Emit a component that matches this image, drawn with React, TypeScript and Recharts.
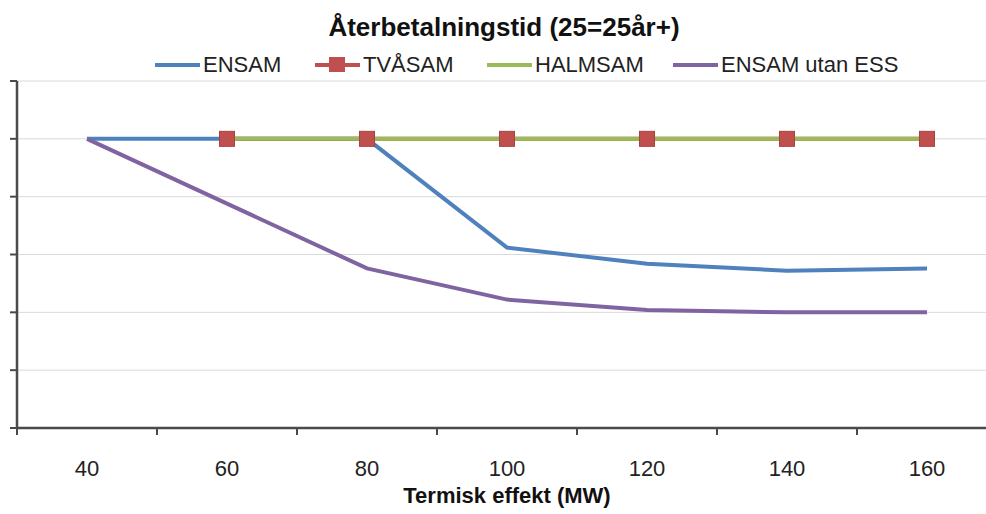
import { CartesianGrid, Legend, Line, LineChart, XAxis, YAxis } from "recharts";

const effekt = [40, 60, 80, 100, 120, 140, 160];
const ensam = [25, 25, 25, 15.6, 14.2, 13.6, 13.8];
const tvasam = [null, 25, 25, 25, 25, 25, 25];
const halmsam = [null, 25, 25, 25, 25, 25, 25];
const ensamUtanEss = [25, 19.4, 13.8, 11.1, 10.2, 10.0, 10.0];
const yTicks = [0, 5, 10, 15, 20, 25, 30];
const xBounds = [30, 50, 70, 90, 110, 130, 150, 170];
const seriesOrder = ["ENSAM", "TVÅSAM", "HALMSAM", "ENSAM utan ESS"];

const data = effekt.map((mw, i) => ({
  mw,
  ensam: ensam[i],
  tvasam: tvasam[i],
  halmsam: halmsam[i],
  utanEss: ensamUtanEss[i],
}));

const font = '"Liberation Sans", Arial, sans-serif';
const axisColor = "#4a4a4a";
// legend item start positions, px from the left edge
const legendX = [155, 315, 487, 673];

const Square = (props: any) => {
  const { cx, cy } = props;
  if (cx == null || cy == null) return null;
  return (
    <rect x={cx - 7.5} y={cy - 7.5} width={15} height={15} fill="#C0504D" stroke="#A8423F" strokeWidth={1} />
  );
};

const LegendBox = (props: any) => {
  const items = [...(props.payload || [])].sort(
    (a: any, b: any) => seriesOrder.indexOf(a.value) - seriesOrder.indexOf(b.value)
  );
  return (
    <div style={{ position: "relative", height: 30, fontFamily: font, fontSize: 22, color: "#222" }}>
      {items.map((it: any, i: number) => (
        <div key={it.value} style={{ position: "absolute", left: legendX[i], top: 0, height: 30, display: "flex", alignItems: "center", whiteSpace: "nowrap" }}>
          <svg width={48} height={18} style={{ display: "block" }}>
            <line x1={0} y1={9} x2={45} y2={9} stroke={it.color} strokeWidth={4} />
            {it.dataKey === "tvasam" && <rect x={14} y={1} width={16} height={15} fill="#C0504D" />}
          </svg>
          <span style={{ lineHeight: "30px" }}>{it.value}</span>
        </div>
      ))}
    </div>
  );
};

export default function App() {
  return (
    <div style={{ position: "absolute", left: 0, top: 0, width: 986, height: 514, overflow: "hidden", background: "#fff" }}>
      <div style={{ position: "absolute", top: 14, left: 0, width: 1008, textAlign: "center", fontFamily: font, fontWeight: "bold", fontSize: 26, lineHeight: "26px", color: "#111" }}>
        Återbetalningstid (25=25år+)
      </div>
      <LineChart width={1000} height={514} data={data} margin={{ top: 51, right: 3, left: 16, bottom: 25 }}>
        <CartesianGrid vertical={false} stroke="#D9D9D9" strokeWidth={1} />
        <Legend verticalAlign="top" height={30} content={<LegendBox />} wrapperStyle={{ top: 50, left: 0, width: 1000, height: 30 }} />
        <YAxis
          type="number"
          domain={[0, 30]}
          ticks={yTicks}
          width={1}
          tickFormatter={() => ""}
          tickSize={7}
          axisLine={{ stroke: axisColor, strokeWidth: 2.5 }}
          tickLine={{ stroke: axisColor, strokeWidth: 2 }}
        />
        <XAxis
          xAxisId="bounds"
          type="number"
          dataKey="mw"
          domain={[30, 170]}
          ticks={xBounds}
          height={1}
          tickFormatter={() => ""}
          tickSize={7}
          axisLine={{ stroke: axisColor, strokeWidth: 2.5 }}
          tickLine={{ stroke: axisColor, strokeWidth: 2 }}
        />
        <XAxis
          xAxisId="mw"
          type="number"
          dataKey="mw"
          domain={[30, 170]}
          ticks={effekt}
          height={60}
          tickSize={0}
          tickMargin={31}
          axisLine={false}
          tickLine={false}
          tick={{ fontFamily: font, fontSize: 22, fill: "#222" }}
          label={{ value: "Termisk effekt (MW)", position: "bottom", offset: -2, style: { fontFamily: font, fontSize: 22, fontWeight: "bold", fill: "#111" } }}
        />
        <Line xAxisId="mw" dataKey="ensam" name="ENSAM" stroke="#4F81BD" strokeWidth={4} dot={false} isAnimationActive={false} />
        <Line xAxisId="mw" dataKey="tvasam" name="TVÅSAM" stroke="#C0504D" strokeWidth={4} dot={<Square />} isAnimationActive={false} />
        <Line xAxisId="mw" dataKey="halmsam" name="HALMSAM" stroke="#9BBB59" strokeWidth={4} dot={false} isAnimationActive={false} />
        <Line xAxisId="mw" dataKey="utanEss" name="ENSAM utan ESS" stroke="#8064A2" strokeWidth={4} dot={false} isAnimationActive={false} />
      </LineChart>
    </div>
  );
}
